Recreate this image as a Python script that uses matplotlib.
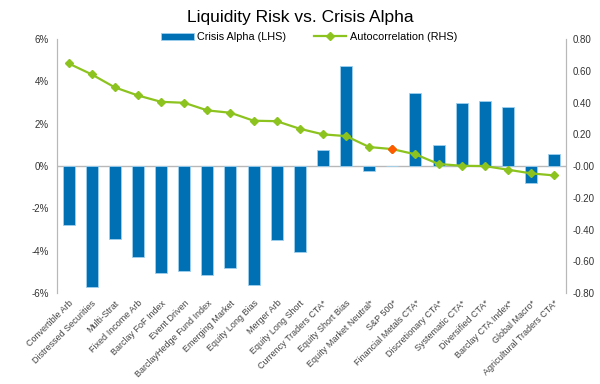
import numpy as np
import matplotlib
matplotlib.use("Agg")
import matplotlib.pyplot as plt
from matplotlib.ticker import FuncFormatter

plt.rcParams["font.family"] = ["Liberation Sans", "DejaVu Sans"]

# strategy names (x axis)
categories = ["Convertible Arb", "Distressed Securities", "Multi-Strat",
              "Fixed Income Arb", "Barclay FoF Index", "Event Driven",
              "BarclayHedge Fund Index", "Emerging Market", "Equity Long Bias",
              "Merger Arb", "Equity Long Short", "Currency Traders CTA*",
              "Equity Short Bias", "Equity Market Neutral*", "S&P 500*",
              "Financial Metals CTA*", "Discretionary CTA*", "Systematic CTA*",
              "Diversified CTA*", "Barclay CTA Index*", "Global Macro*",
              "Agricultural Traders CTA*"]

# crisis alpha in % (LHS)
crisis_alpha = [-2.8, -5.7, -3.45, -4.3, -5.05, -4.95, -5.15, -4.8, -5.6,
                -3.5, -4.05, 0.75, 4.75, -0.25, 0.0, 3.45, 1.0, 3.0,
                3.1, 2.8, -0.8, 0.55]

# autocorrelation (RHS)
autocorr = [0.647, 0.578, 0.496, 0.445, 0.405, 0.399, 0.351, 0.336, 0.286,
            0.283, 0.235, 0.20, 0.189, 0.12, 0.107, 0.074, 0.013, 0.002,
            0.0, -0.023, -0.046, -0.059]

blue = "#0070b4"
green = "#8cc31e"
grey = "#b8b8b8"

x = np.arange(len(categories))

fig = plt.figure(figsize=(6, 3.84), dpi=100)
ax = fig.add_axes([0.095, 0.237, 0.848, 0.661])
ax2 = ax.twinx()

bars = ax.bar(x, crisis_alpha, width=0.52, color=blue, edgecolor="#9fd0ee",
              linewidth=0.6, label="Crisis Alpha (LHS)", zorder=2)
ax.axhline(0, color=grey, lw=1, zorder=1)
ax.set_ylim(-6, 6)
ax.set_yticks(np.arange(-6, 7, 2))
ax.yaxis.set_major_formatter(FuncFormatter(lambda v, p: f"{v:.0f}%"))
ax.set_xlim(-0.5, len(categories) - 0.5)
ax.set_xticks(x)
ax.set_xticklabels(categories, rotation=45, ha="right", rotation_mode="anchor",
                   fontsize=6.5, color="#444444")
ax.tick_params(axis="y", length=0, labelsize=7, pad=6, colors="#333333")
ax.tick_params(axis="x", length=0, pad=4)

line, = ax2.plot(x, autocorr, color=green, lw=1.6, marker="D", markersize=4.5,
                 label="Autocorrelation (RHS)", zorder=3)
sp = categories.index("S&P 500*")
ax2.plot(x[sp], autocorr[sp], marker="D", markersize=4.5, color="#ff5a00",
         linestyle="none", zorder=4)
ax2.set_ylim(-0.8, 0.8)
ax2.set_yticks(np.arange(-0.8, 0.81, 0.2))
ax2.yaxis.set_major_formatter(FuncFormatter(lambda v, p: f"{v:.2f}"))
ax2.tick_params(axis="y", length=0, labelsize=7, pad=5, colors="#333333")

for a in (ax, ax2):
    for s in ("top", "bottom"):
        a.spines[s].set_visible(False)
    a.spines["left"].set_color(grey)
    a.spines["right"].set_color(grey)

fig.text(0.5, 0.955, "Liquidity Risk vs. Crisis Alpha", ha="center", va="center",
         fontsize=12.5)
fig.legend([bars, line], ["Crisis Alpha (LHS)", "Autocorrelation (RHS)"],
           loc="center", bbox_to_anchor=(0.515, 0.903), ncol=2, frameon=False,
           fontsize=7.8, handlelength=3.0, columnspacing=2.6, handletextpad=0.3)

fig.savefig("out.png", dpi=100)
